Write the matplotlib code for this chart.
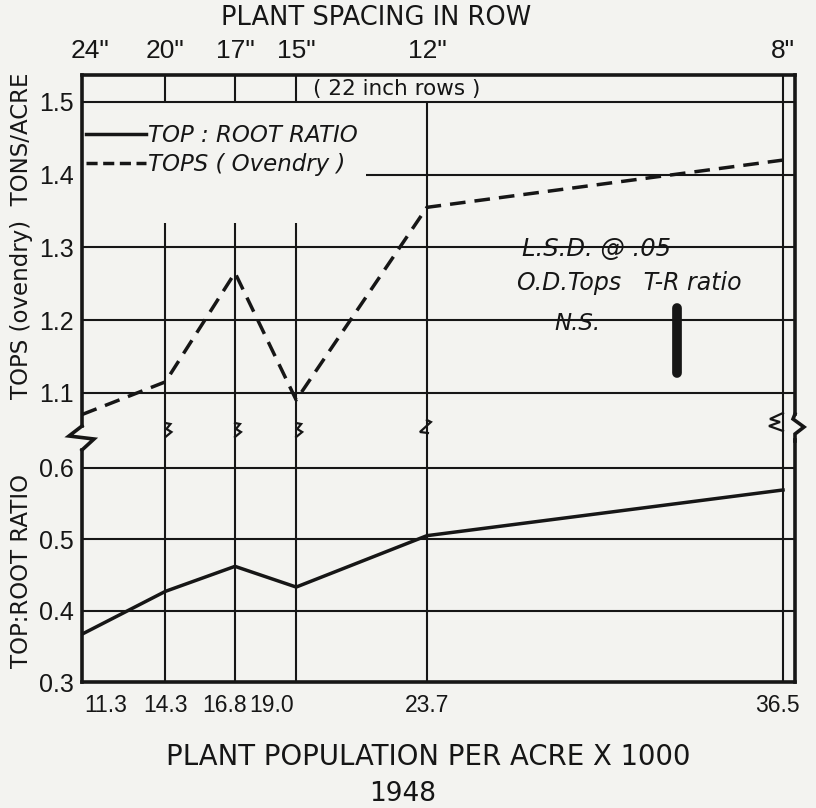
import matplotlib
matplotlib.use("Agg")
import matplotlib.pyplot as plt
from matplotlib.lines import Line2D
from matplotlib.transforms import ScaledTranslation

# plant population per acre (x 1000) and the matching in-row spacing
population = [11.3, 14.3, 16.8, 19.0, 23.7, 36.5]
pop_labels = ["11.3", "14.3", "16.8", "19.0", "23.7", "36.5"]
spacing_labels = ['24"', '20"', '17"', '15"', '12"', '8"']

# ovendry tops (tons/acre) and top:root ratio, 1948
tops = [1.07, 1.115, 1.265, 1.09, 1.355, 1.42]
ratio = [0.367, 0.427, 0.462, 0.433, 0.505, 0.569]

tops_ticks = [1.1, 1.2, 1.3, 1.4, 1.5]
ratio_ticks = [0.3, 0.4, 0.5, 0.6]
lsd_ratio = 0.10  # L.S.D. @ .05 for T-R ratio (tops N.S.)

INK = "#161616"
PAPER = "#f3f3f0"
W, H = 816, 808
FONT = "DejaVu Sans"
TICKFONT = "Liberation Sans"

# frame edges in pixels
left, right, top, brk, bottom = 82, 795, 75, 440, 682


def fxy(px, py):
    return px / W, 1 - py / H


def nudge(label, dx_px):
    label.set_transform(label.get_transform() +
                        ScaledTranslation(dx_px / 100, 0, fig.dpi_scale_trans))


fig = plt.figure(figsize=(W / 100, H / 100), dpi=100, facecolor=PAPER)
ax_top = fig.add_axes([left / W, 1 - brk / H, (right - left) / W, (brk - top) / H])
ax_bot = fig.add_axes([left / W, 1 - bottom / H, (right - left) / W, (bottom - brk) / H])

xmax = 36.5 + 12 / ((783 - 82) / (36.5 - 11.3))
for ax in (ax_top, ax_bot):
    ax.set_facecolor("none")
    ax.set_xlim(11.3, xmax)
    for s in ax.spines.values():
        s.set_linewidth(2.6)
        s.set_color(INK)
    ax.tick_params(length=0, colors=INK, labelsize=15)
ax_top.set_ylim(1.035, 1.537)
ax_bot.set_ylim(0.3, 0.639)
ax_top.spines["bottom"].set_visible(False)
ax_bot.spines["top"].set_visible(False)

# grid, drawn by hand because some lines stop short
grid_kw = dict(color=INK, lw=1.5, zorder=1)
y0, y1 = ax_top.get_ylim()
for t in tops_ticks:
    ax_top.hlines(t, 21.5 if t == 1.4 else 11.3, xmax, **grid_kw)
for x in population[1:4]:
    ax_top.vlines(x, y0, 1.333, **grid_kw)
    ax_top.vlines(x, 1.5, y1, **grid_kw)
ax_top.vlines(population[4], y0, 1.5, **grid_kw)
ax_top.vlines(population[5], y0, y1, **grid_kw)
for t in ratio_ticks[1:]:
    ax_bot.hlines(t, 11.3, xmax, **grid_kw)
ax_bot.vlines(population[1:], 0.3, ax_bot.get_ylim()[1], **grid_kw)

# data
ax_top.plot(population, tops, color=INK, lw=2.5, ls=(0, (4.5, 2.6)),
            label="TOPS ( Ovendry )", zorder=3)
ax_bot.plot(population, ratio, color=INK, lw=2.5, label="TOP : ROOT RATIO",
            zorder=3)

# ticks
ax_top.set_yticks(tops_ticks, [f"{t:.1f}" for t in tops_ticks])
ax_bot.set_yticks(ratio_ticks, [f"{t:.1f}" for t in ratio_ticks])
ax_top.tick_params(axis="y", pad=6, labelsize=18)
ax_bot.tick_params(axis="y", pad=6, labelsize=18)
ax_top.set_xticks(population, spacing_labels)
ax_top.tick_params(axis="x", top=True, labeltop=True, bottom=False,
                   labelbottom=False, pad=9, labelsize=19)
nudge(ax_top.get_xticklabels()[0], 8)
ax_bot.set_xticks(population, pop_labels)
ax_bot.tick_params(axis="x", pad=9, labelsize=16.5)
blabels = ax_bot.get_xticklabels()
blabels[0].set_ha("left")
nudge(blabels[0], 2)
nudge(blabels[2], -10)
blabels[3].set_ha("right")
nudge(blabels[3], -2)
nudge(blabels[5], -6)
for lab in ax_top.get_xticklabels() + ax_bot.get_xticklabels() + \
        ax_top.get_yticklabels() + ax_bot.get_yticklabels():
    lab.set_family(TICKFONT)


# broken-axis marks, shapes given in pixels
def mark(pts, lw=2.0):
    xs, ys = zip(*[fxy(px, py) for px, py in pts])
    fig.add_artist(Line2D(xs, ys, transform=fig.transFigure, color=INK,
                          lw=lw, solid_joinstyle="miter"))


def px_of(ax, x):
    return ax.transData.transform((x, 0))[0] * W / fig.bbox.width


def data_y(ax, py):
    disp = (0, (1 - py / H) * fig.bbox.height)
    return ax.transData.inverted().transform(disp)[1]


ax_top.spines["left"].set_bounds(data_y(ax_top, 426), y1)
ax_bot.spines["left"].set_bounds(0.3, data_y(ax_bot, 450))
mark([(left, 426), (69, 436), (94, 439), (left, 450)], lw=2.6)

ax_top.spines["right"].set_bounds(data_y(ax_top, 414), y1)
mark([(right, 414), (793, 419), (804, 427), (795, 434), (right, 441)], lw=2.6)

for x in population[1:4]:
    p = px_of(ax_top, x)
    mark([(p, 423), (p + 5, 424), (p + 1, 429), (p + 6, 432), (p, 437)], lw=1.6)
p = px_of(ax_top, population[4])
mark([(p, 420), (p + 4, 422), (p - 7, 432), (p + 1, 433)], lw=1.6)
p = px_of(ax_top, population[5])
mark([(p, 413), (p - 13, 419), (p - 3, 422), (p - 14, 426), (p, 431)], lw=1.6)

# legend
h_ratio = Line2D([], [], color=INK, lw=2.5)
h_tops = Line2D([], [], color=INK, lw=2.5, ls=(0, (3.2, 1.6)))
leg = fig.legend([h_ratio, h_tops], ["TOP : ROOT RATIO", "TOPS ( Ovendry )"],
                 loc="upper left", bbox_to_anchor=fxy(86, 124), frameon=False,
                 borderpad=0, borderaxespad=0, handlelength=2.6,
                 handletextpad=0.12, labelspacing=0.25,
                 prop=dict(family=FONT, style="italic", size=16.5))
for t in leg.get_texts():
    t.set_color(INK)

# L.S.D. note and bar
txt = dict(color=INK, family=FONT, style="italic", ha="center", va="center")
fig.text(*fxy(597, 249), "L.S.D. @ .05", size=17.5, **txt)
fig.text(*fxy(629, 283), "O.D.Tops   T-R ratio", size=17, **txt)
fig.text(*fxy(577, 323), "N.S.", size=16.5, **txt)
ax_top.plot([32.7, 32.7], [1.1765 - lsd_ratio / 2, 1.1665 + lsd_ratio / 2],
            color=INK, lw=7, solid_capstyle="round", zorder=4)

# titles
up = dict(color=INK, family=FONT, ha="center", va="center")
fig.text(*fxy(376, 18), "PLANT SPACING IN ROW", size=18.5, **up)
fig.text(*fxy(397, 89), "( 22 inch rows )", size=15.5, **up)
fig.text(*fxy(428, 757), "PLANT POPULATION PER ACRE X 1000", size=19.8, **up)
fig.text(*fxy(403, 794), "1948", size=19, **up)
fig.text(*fxy(22, 236), "TOPS (ovendry)  TONS/ACRE", size=16.5, rotation=90, **up)
fig.text(*fxy(22, 571), "TOP:ROOT RATIO", size=16.5, rotation=90, **up)

fig.savefig("out.png", dpi=100, facecolor=PAPER)
